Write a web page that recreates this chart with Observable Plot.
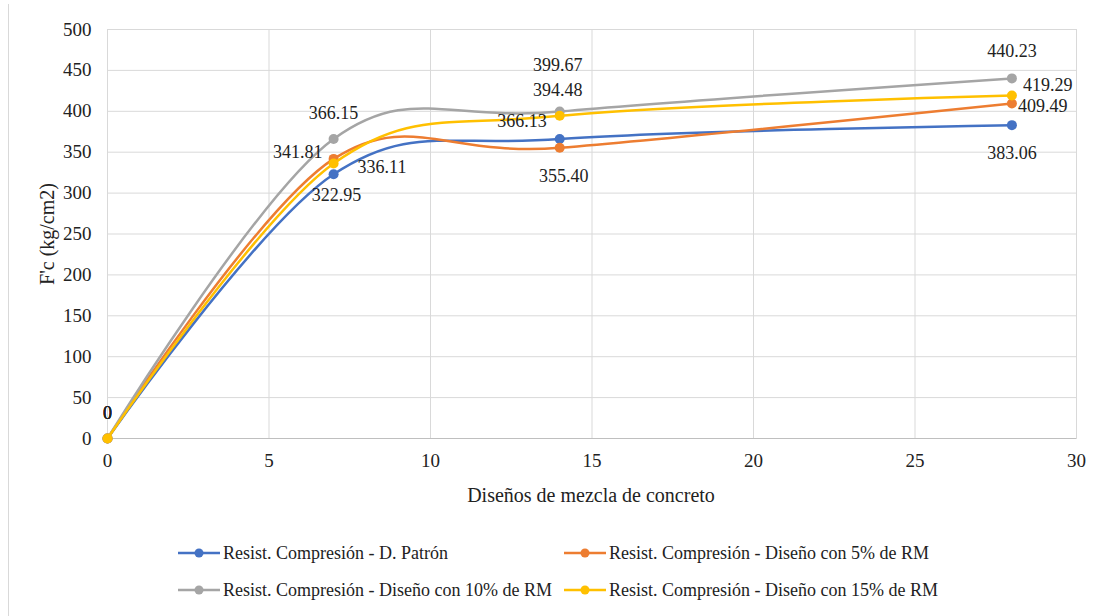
<!DOCTYPE html>
<html><head><meta charset="utf-8">
<script src="https://cdn.jsdelivr.net/npm/d3@7"></script>
<script src="https://cdn.jsdelivr.net/npm/@observablehq/plot@0.6"></script>
<style>
body{margin:0;background:#fff;font-family:"Liberation Serif","Times New Roman",serif;color:#000}
#wrap{position:relative;width:1098px;height:616px;overflow:hidden;background:#fff}
#chart{position:absolute;left:0;top:0}
.title{position:absolute;font-size:20px;white-space:nowrap;color:#222}
.leg{position:absolute;font-size:18px;white-space:nowrap;display:flex;align-items:center;color:#222}
.leg svg{margin-right:3px}
#border{position:absolute;left:8px;top:4px;width:1px;height:620px;background:#d9d9d9}
</style></head>
<body><div id="wrap"><div id="border"></div><div id="chart"></div></div>
<script>
// ---- data ----
const days = [0, 7, 14, 28];
const seriesNames = [
  "Resist. Compresión - D. Patrón",
  "Resist. Compresión - Diseño con 5% de RM",
  "Resist. Compresión - Diseño con 10% de RM",
  "Resist. Compresión - Diseño con 15% de RM"
];
const patron = [0, 322.95, 366.13, 383.06];
const rm5 = [0, 341.81, 355.40, 409.49];
const rm10 = [0, 366.15, 399.67, 440.23];
const rm15 = [0, 336.11, 394.48, 419.29];
const xTicks = [0, 5, 10, 15, 20, 25, 30];
const yTicks = [0, 50, 100, 150, 200, 250, 300, 350, 400, 450, 500];
const xTitle = "Diseños de mezcla de concreto";
const yTitle = "F'c (kg/cm2)";

// ---- styling ----
const FONT = '"Liberation Serif","Times New Roman",serif';
const colors = ["#4472C4", "#ED7D31", "#A5A5A5", "#FFC000"];
// label offsets [dx, dy, anchor] per series, per point
const labelPos = [
  [[0,-25,"middle"],[3,21,"middle"],[-13,-18,"end"],[0,28,"middle"]],
  [[0,-25,"middle"],[-11,-7,"end"],[4,28,"middle"],[6,3,"start"]],
  [[0,-25,"middle"],[0,-26,"middle"],[-2,-46,"middle"],[0,-27,"middle"]],
  [[0,-25,"middle"],[24,4,"start"],[-2,-26,"middle"],[11,-10,"start"]]
];

const allSeries = [patron, rm5, rm10, rm15];
const rows = [];
allSeries.forEach((vals, s) => vals.forEach((v, i) => rows.push({s, name: seriesNames[s], x: days[i], y: v, i})));

const fmt = v => v === 0 ? "0" : v.toFixed(2);

const marks = [
  Plot.gridX(xTicks, {stroke: "#d9d9d9", strokeOpacity: 1}),
  Plot.gridY(yTicks, {stroke: "#d9d9d9", strokeOpacity: 1}),
  Plot.frame({stroke: "#d9d9d9"}),
  Plot.ruleY([0], {stroke: "#bfbfbf"}),
  Plot.axisX(xTicks, {tickSize: 0, tickPadding: 15, fontSize: 19, label: null}),
  Plot.axisY(yTicks, {tickSize: 0, tickPadding: 16, fontSize: 19, label: null})
];
allSeries.forEach((vals, s) => {
  const d = rows.filter(r => r.s === s);
  marks.push(Plot.line(d, {x: "x", y: "y", stroke: colors[s], strokeWidth: 2.5, curve: "cardinal"}));
  marks.push(Plot.dot(d, {x: "x", y: "y", fill: colors[s], r: 5}));
});
allSeries.forEach((vals, s) => {
  vals.forEach((v, i) => {
    const [dx, dy, anchor] = labelPos[s][i];
    marks.push(Plot.text([{x: days[i], y: v}], {x: "x", y: "y", text: d => fmt(d.y), dx, dy, textAnchor: anchor, fontSize: 18, fill: "#222"}));
  });
});

const chart = Plot.plot({
  width: 1098, height: 520,
  marginLeft: 107, marginRight: 22, marginTop: 29, marginBottom: 82,
  style: {fontFamily: FONT, fontSize: "18px", color: "#222", background: "transparent"},
  x: {domain: [0, 30], axis: null},
  y: {domain: [0, 500], axis: null},
  marks
});
document.getElementById("chart").appendChild(chart);

const wrap = document.getElementById("wrap");
const xt = document.createElement("div");
xt.className = "title"; xt.textContent = xTitle;
xt.style.left = "591px"; xt.style.top = "495px"; xt.style.transform = "translate(-50%,-50%)";
wrap.appendChild(xt);
const yt = document.createElement("div");
yt.className = "title"; yt.textContent = yTitle;
yt.style.left = "47px"; yt.style.top = "234px"; yt.style.transform = "translate(-50%,-50%) rotate(-90deg)";
wrap.appendChild(yt);

const legPos = [[178,553],[564,553],[178,590],[564,590]];
seriesNames.forEach((n, s) => {
  const el = document.createElement("div");
  el.className = "leg";
  el.style.left = legPos[s][0] + "px";
  el.style.top = (legPos[s][1] - 12) + "px";
  el.style.height = "24px";
  el.innerHTML = `<svg width="42" height="12"><line x1="0" y1="6" x2="42" y2="6" stroke="${colors[s]}" stroke-width="2.5"/><circle cx="21" cy="6" r="4.5" fill="${colors[s]}"/></svg><span>${n}</span>`;
  wrap.appendChild(el);
});
</script></body></html>
